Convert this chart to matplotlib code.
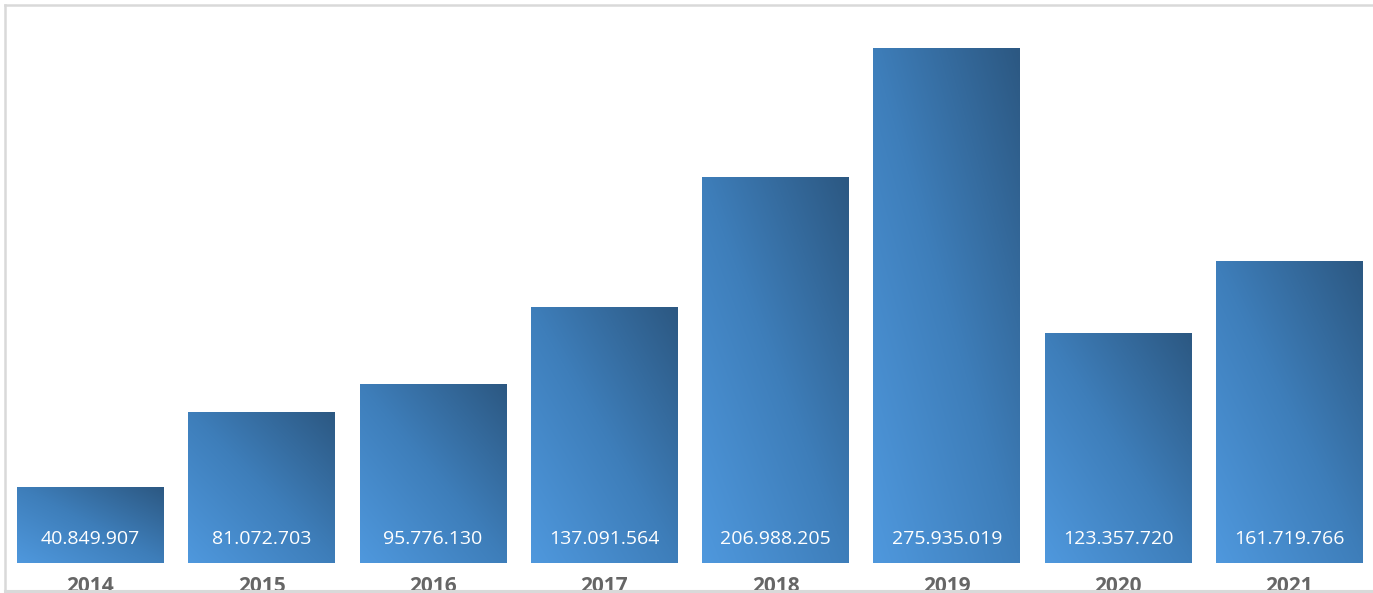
import numpy as np
import matplotlib.pyplot as plt
from matplotlib.colors import LinearSegmentedColormap
from matplotlib.patches import Rectangle
from matplotlib.lines import Line2D

years = ['2014', '2015', '2016', '2017', '2018', '2019', '2020', '2021']
values = [40849907, 81072703, 95776130, 137091564, 206988205, 275935019, 123357720, 161719766]
labels = ['40.849.907', '81.072.703', '95.776.130', '137.091.564',
          '206.988.205', '275.935.019', '123.357.720', '161.719.766']

W, H = 1373, 593
fig = plt.figure(figsize=(W / 100, H / 100), dpi=100)
fig.patch.set_facecolor('white')

# ejes en pixeles: base en y=563, borde superior en y=4
ax = fig.add_axes([4.86 / W, 30 / H, (1375.1 - 4.86) / W, (589 - 30) / H])
ax.set_xlim(-0.5, 7.5)
ax.set_ylim(0, 299.6e6)
ax.axis('off')
ax.set_facecolor('none')

# degradado diagonal: claro abajo-izquierda, oscuro arriba-derecha
cmap = LinearSegmentedColormap.from_list('azul', ['#4f98dd', '#3e7eba', '#2c5882'])
u, v = np.meshgrid(np.linspace(0, 1, 100), np.linspace(0, 1, 100))
grad = (u + v) / 2

x = np.arange(len(years))
bars = ax.bar(x, values, width=0.858, facecolor='none', edgecolor='none')
for b in bars:
    x0, y0 = b.get_x(), b.get_y()
    im = ax.imshow(grad, cmap=cmap, vmin=0, vmax=1, origin='lower', aspect='auto',
                   extent=[x0, x0 + b.get_width(), y0, y0 + b.get_height()],
                   interpolation='bilinear', zorder=2)
    im.set_clip_path(b)

for xi, lab in zip(x, labels):
    ax.annotate(lab, (xi, 0), xytext=(0, 24), textcoords='offset pixels',
                ha='center', va='center', color='white', fontsize=14,
                family='Open Sans', zorder=3)

# etiquetas de los anos, cortadas por el borde inferior
for xi, yr in zip(x, years):
    fig.text(ax.transData.transform((xi, 0))[0] / W, 0.5 / H, yr,
             ha='center', va='baseline', color='#666666', fontsize=15,
             fontweight='bold', family='Open Sans', zorder=1)

# marco del grafico (recortado)
fig.add_artist(Rectangle((0, 0), 1, 2.5 / H, transform=fig.transFigure,
                         facecolor='white', edgecolor='none', zorder=5))
fig.add_artist(Line2D([4.5 / W, 4.5 / W], [(H - 590.5) / H, (H - 4.5) / H],
                      transform=fig.transFigure, color='#d9d9d9', lw=1.8, zorder=6))
fig.add_artist(Line2D([4.5 / W, 1], [(H - 4.5) / H, (H - 4.5) / H],
                      transform=fig.transFigure, color='#d9d9d9', lw=1.8, zorder=6))
fig.add_artist(Line2D([4.5 / W, 1], [(H - 590.5) / H, (H - 590.5) / H],
                      transform=fig.transFigure, color='#d9d9d9', lw=2.2, zorder=6))

fig.savefig('out.png', dpi=100)
